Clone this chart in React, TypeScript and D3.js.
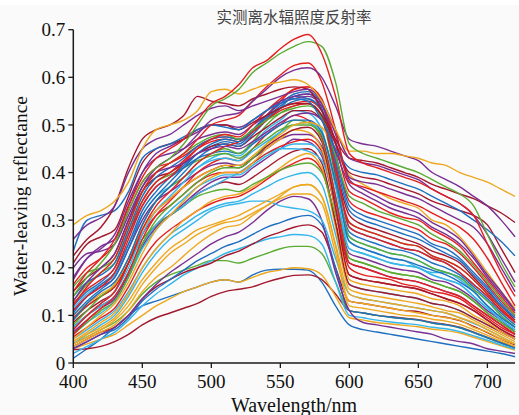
import React from "react";
import * as d3 from "d3";

// Sampling wavelengths (nm) shared by every spectrum
const wavelengths = [
  400, 410, 420, 430, 440, 450, 460, 470, 480, 490, 500,
  510, 520, 530, 540, 550, 560, 570, 580, 590, 600, 610,
  620, 630, 640, 650, 660, 670, 680, 690, 700, 710, 720,
];

const xTicks = [400, 450, 500, 550, 600, 650, 700];
const yTicks = [0, 0.1, 0.2, 0.3, 0.4, 0.5, 0.6, 0.7];
const yTickLabels = ["0", "0.1", "0.2", "0.3", "0.4", "0.5", "0.6", "0.7"];

const title = "实测离水辐照度反射率";
const xLabel = "Wavelength/nm";
const yLabel = "Water-leaving reflectance";

const BLUE = "#1f6fc0";
const RED = "#e41f1f";
const ORANGE = "#eea820";
const PURPLE = "#7a2f92";
const GREEN = "#5aab32";
const CYAN = "#33b6ea";
const DARKRED = "#a3182c";

// Bright, high-offset spectra
const sA1 = [.29,.31,.32,.34,.38,.45,.49,.50,.51,.53,.57, .575,.565,.575,.585,.59,.595,.585,.55,.49,.445,.445, .44,.44,.435,.43,.42,.415,.40,.39,.38,.365,.35];
const sA2 = [.26,.29,.305,.33,.40,.45,.47,.48,.50,.52,.535, .54,.53,.54,.55,.56,.57,.575,.55,.49,.43,.42, .415,.405,.395,.385,.365,.35,.335,.31,.27,.22,.17];
const sA3 = [.225,.26,.285,.33,.41,.47,.49,.50,.52,.56,.55, .545,.54,.555,.565,.575,.58,.575,.53,.47,.43,.425, .42,.41,.40,.39,.375,.365,.355,.345,.33,.315,.295];
const sA4 = [.235,.30,.31,.32,.36,.43,.45,.46,.475,.49,.50, .495,.49,.51,.53,.545,.555,.55,.51,.45,.41,.40, .395,.385,.375,.365,.35,.335,.32,.30,.28,.255,.225];
const sA5 = [.21,.25,.265,.28,.35,.42,.45,.46,.47,.49,.50, .50,.49,.505,.52,.535,.545,.545,.52,.46,.40,.39, .385,.375,.365,.355,.34,.33,.32,.31,.29,.24,.19];
const sA6 = [.175,.22,.245,.26,.33,.40,.44,.455,.47,.485,.50, .50,.495,.51,.53,.55,.56,.565,.545,.48,.39,.38, .375,.365,.355,.345,.33,.315,.30,.285,.25,.20,.15];

// Spectra with the highest green peaks
const sB1 = [.15,.19,.22,.26,.33,.39,.43,.45,.47,.51,.545, .56,.585,.62,.635,.66,.68,.69,.65,.56,.44,.42, .41,.40,.39,.38,.365,.35,.335,.31,.25,.19,.14];
const sB2 = [.14,.18,.21,.25,.32,.38,.41,.43,.46,.50,.54, .555,.575,.61,.63,.65,.665,.675,.665,.59,.46,.44, .43,.42,.41,.40,.385,.37,.355,.33,.27,.21,.16];
const sB3 = [.12,.16,.19,.22,.29,.36,.40,.42,.44,.47,.50, .51,.52,.55,.58,.605,.625,.63,.59,.49,.38,.37, .36,.35,.34,.33,.315,.30,.285,.26,.22,.17,.12];
const sB4 = [.13,.17,.20,.23,.30,.37,.41,.43,.45,.48,.51, .52,.525,.55,.575,.60,.615,.62,.60,.54,.47,.46, .455,.445,.435,.425,.40,.385,.37,.35,.33,.30,.265];

// Main cluster
const sC1 = [.11,.14,.16,.19,.26,.33,.37,.39,.42,.45,.47, .48,.475,.50,.53,.555,.575,.58,.555,.46,.36,.345, .33,.315,.305,.30,.28,.265,.245,.21,.175,.14,.105];
const sC2 = [.10,.13,.155,.18,.24,.31,.35,.38,.41,.44,.46, .47,.465,.49,.52,.545,.565,.57,.545,.44,.33,.31, .30,.29,.28,.27,.25,.24,.22,.19,.16,.125,.095];
const sC3 = [.09,.125,.15,.17,.22,.29,.34,.37,.40,.43,.45, .46,.455,.48,.51,.535,.56,.555,.53,.41,.285,.27, .26,.25,.24,.235,.22,.21,.19,.165,.14,.11,.085];
const sC4 = [.18,.22,.24,.27,.34,.40,.43,.44,.45,.47,.48, .485,.48,.50,.52,.545,.555,.56,.54,.465,.385,.365, .35,.335,.325,.315,.295,.28,.26,.225,.185,.15,.11];
const sC5 = [.165,.20,.22,.25,.32,.38,.41,.42,.435,.455,.47, .475,.47,.49,.51,.535,.545,.55,.53,.435,.34,.32, .31,.30,.29,.28,.26,.25,.23,.20,.165,.13,.10];
const sC6 = [.08,.11,.14,.165,.22,.29,.34,.37,.39,.42,.44, .45,.44,.465,.50,.525,.54,.545,.515,.39,.265,.25, .24,.23,.225,.215,.20,.19,.18,.155,.13,.10,.075];
const sC7 = [.07,.10,.125,.15,.20,.27,.32,.35,.38,.41,.43, .44,.435,.46,.49,.51,.53,.525,.49,.37,.24,.23, .22,.21,.205,.20,.185,.175,.165,.14,.115,.09,.07];
const sC8 = [.15,.18,.20,.23,.30,.36,.39,.40,.42,.44,.455, .46,.455,.475,.495,.515,.53,.53,.51,.41,.31,.29, .28,.27,.26,.25,.235,.225,.21,.18,.15,.12,.09];
const sC9 = [.06,.09,.115,.14,.19,.26,.31,.34,.37,.40,.42, .43,.425,.45,.48,.50,.52,.51,.475,.35,.21,.20, .19,.18,.175,.17,.16,.15,.14,.12,.10,.08,.06];
const sC10 = [.12,.15,.17,.20,.27,.33,.37,.39,.41,.43,.44, .445,.44,.46,.48,.50,.51,.51,.485,.38,.275,.26, .25,.24,.235,.225,.21,.20,.185,.16,.135,.105,.08];
const sC11 = [.13,.165,.19,.21,.28,.34,.38,.395,.41,.425,.435, .44,.43,.45,.47,.49,.50,.50,.48,.385,.295,.28, .27,.26,.25,.245,.225,.215,.20,.175,.145,.115,.085];
const sC12 = [.05,.075,.10,.125,.17,.23,.28,.31,.34,.37,.39, .40,.40,.42,.45,.47,.49,.485,.45,.32,.175,.165, .16,.155,.15,.145,.135,.13,.12,.10,.085,.065,.05];
const sC13 = [.11,.14,.16,.18,.24,.30,.34,.36,.38,.40,.415, .42,.415,.43,.45,.47,.48,.48,.455,.34,.23,.22, .21,.20,.195,.19,.175,.17,.155,.135,.11,.09,.065];
const sC14 = [.095,.12,.14,.16,.21,.27,.31,.33,.355,.38,.395, .40,.40,.42,.44,.455,.465,.47,.445,.32,.20,.185, .18,.175,.165,.16,.15,.145,.135,.115,.095,.075,.06];
const sC15 = [.06,.085,.105,.13,.18,.24,.28,.31,.33,.355,.37, .385,.40,.42,.44,.45,.45,.445,.425,.34,.255,.24, .23,.22,.215,.20,.19,.19,.175,.15,.12,.095,.075];
const sC16 = [.075,.10,.12,.14,.19,.25,.29,.31,.33,.355,.37, .38,.375,.39,.41,.43,.445,.45,.42,.295,.165,.155, .15,.145,.14,.135,.125,.12,.11,.095,.08,.065,.05];
const sC17 = [.045,.065,.085,.105,.145,.20,.24,.27,.30,.32,.34, .35,.355,.37,.39,.41,.43,.44,.41,.285,.155,.145, .14,.135,.13,.125,.118,.11,.105,.09,.075,.06,.045];
const sC18 = [.09,.12,.14,.16,.21,.26,.29,.31,.33,.35,.36, .365,.36,.375,.39,.405,.415,.42,.40,.31,.22,.21, .20,.19,.185,.18,.17,.16,.15,.13,.105,.085,.065];

const sH1 = [.20,.23,.235,.25,.31,.37,.40,.41,.42,.44,.45, .455,.45,.465,.485,.505,.52,.525,.51,.445,.375,.355, .34,.325,.315,.305,.285,.27,.25,.22,.18,.145,.11];
const sH2 = [.16,.19,.20,.22,.29,.36,.40,.42,.44,.46,.475, .48,.47,.49,.51,.525,.535,.54,.52,.435,.35,.335, .32,.31,.30,.29,.27,.255,.235,.205,.17,.135,.10];
const sH3 = [.14,.17,.185,.21,.28,.35,.39,.41,.43,.455,.47, .475,.47,.49,.515,.535,.55,.555,.53,.425,.32,.30, .29,.28,.27,.26,.245,.23,.215,.185,.155,.12,.095];
const sH4 = [.125,.155,.175,.20,.27,.34,.38,.40,.425,.45,.465, .47,.465,.485,.51,.53,.54,.545,.52,.405,.295,.28, .27,.26,.25,.245,.225,.215,.20,.175,.145,.115,.085];
const sH5 = [.105,.14,.165,.19,.25,.32,.36,.39,.415,.44,.455, .465,.46,.485,.515,.54,.56,.565,.535,.395,.255,.24, .23,.22,.215,.205,.195,.185,.17,.15,.12,.095,.075];
const sH6 = [.085,.11,.13,.15,.21,.28,.32,.345,.37,.39,.405, .415,.41,.43,.455,.475,.49,.495,.465,.325,.185,.175, .17,.165,.16,.155,.145,.135,.125,.11,.09,.07,.055];
const sH7 = [.07,.10,.125,.15,.21,.28,.33,.36,.39,.42,.44, .455,.465,.49,.52,.55,.575,.58,.55,.42,.285,.27, .26,.25,.24,.235,.22,.21,.19,.165,.14,.11,.085];
const sH8 = [.06,.085,.11,.13,.18,.25,.30,.33,.355,.38,.40, .41,.41,.43,.46,.485,.51,.505,.47,.35,.22,.21, .20,.19,.185,.18,.17,.16,.15,.13,.105,.085,.065];
const sH9 = [.10,.125,.145,.165,.22,.28,.32,.345,.37,.39,.405, .415,.415,.435,.46,.48,.50,.505,.495,.445,.395,.375, .36,.345,.335,.325,.30,.29,.265,.23,.19,.15,.115];
const sH10 = [.115,.145,.165,.185,.25,.31,.35,.37,.39,.41,.425, .43,.425,.445,.465,.485,.50,.505,.48,.375,.265,.25, .24,.23,.225,.215,.20,.19,.18,.155,.13,.10,.075];

const sM1 = [.05,.07,.09,.11,.15,.20,.24,.27,.29,.31,.325, .335,.34,.355,.37,.385,.395,.40,.375,.27,.165,.155, .15,.145,.14,.135,.125,.12,.11,.095,.08,.065,.05];
const sM2 = [.04,.055,.07,.09,.12,.165,.20,.23,.25,.27,.285, .295,.30,.315,.33,.345,.355,.355,.335,.23,.13,.125, .12,.115,.11,.105,.10,.095,.09,.075,.065,.05,.04];
const sM3 = [.045,.06,.075,.095,.13,.175,.21,.24,.26,.28,.29, .30,.31,.325,.34,.355,.37,.375,.35,.25,.145,.135, .13,.125,.12,.115,.11,.105,.095,.085,.07,.055,.04];
const sM4 = [.055,.075,.095,.115,.16,.215,.255,.28,.30,.32,.335, .345,.35,.365,.385,.405,.42,.43,.405,.295,.185,.175, .17,.165,.16,.155,.145,.135,.125,.11,.09,.07,.055];
const sM5 = [.065,.09,.115,.135,.185,.245,.285,.31,.335,.36,.38, .39,.39,.41,.43,.45,.47,.465,.435,.325,.21,.20, .19,.18,.175,.17,.16,.15,.14,.12,.10,.08,.06];
const sM6 = [.075,.10,.12,.14,.19,.25,.29,.32,.345,.37,.385, .395,.395,.415,.435,.45,.46,.46,.44,.34,.24,.23, .22,.21,.205,.20,.185,.175,.165,.14,.115,.09,.07];

// Dim spectra
const sL1 = [.035,.05,.065,.08,.11,.15,.18,.20,.225,.25,.27, .285,.29,.31,.33,.35,.37,.375,.35,.245,.12,.115, .11,.105,.10,.098,.092,.088,.081,.07,.058,.046,.035];
const sL2 = [.04,.06,.08,.10,.14,.19,.23,.26,.28,.30,.32, .33,.335,.34,.34,.33,.325,.32,.30,.22,.145,.135, .13,.125,.12,.115,.11,.105,.095,.083,.07,.055,.04];
const sL3 = [.03,.045,.06,.075,.10,.135,.165,.19,.21,.23,.25, .265,.275,.295,.32,.34,.35,.345,.30,.19,.11,.085, .08,.075,.07,.065,.06,.05,.045,.04,.03,.025,.02];
const sL4 = [.03,.045,.06,.07,.095,.13,.155,.175,.195,.215,.23, .245,.255,.27,.285,.295,.305,.31,.29,.20,.11,.105, .10,.096,.093,.09,.084,.08,.074,.064,.053,.042,.032];
const sL5 = [.035,.05,.065,.075,.10,.135,.16,.175,.19,.20,.21, .225,.235,.25,.265,.275,.285,.29,.275,.20,.13,.125, .12,.115,.11,.108,.10,.096,.089,.077,.064,.05,.038];
const sL6 = [.04,.055,.07,.085,.11,.145,.17,.185,.195,.205,.215, .215,.21,.22,.23,.24,.245,.245,.23,.17,.11,.105, .10,.096,.093,.09,.084,.08,.074,.064,.053,.042,.032];
const sL7 = [.03,.04,.05,.06,.08,.10,.12,.135,.15,.16,.17, .175,.17,.18,.19,.195,.20,.198,.185,.14,.095,.09, .085,.082,.079,.076,.071,.068,.063,.054,.045,.036,.027];
const sL8 = [.01,.03,.05,.075,.10,.12,.13,.14,.15,.16,.17, .175,.17,.185,.195,.197,.197,.195,.17,.12,.08,.07, .065,.06,.055,.05,.045,.04,.035,.03,.025,.02,.013];
const sL9 = [.028,.03,.035,.045,.06,.08,.095,.105,.115,.125,.14, .15,.155,.16,.17,.178,.184,.185,.175,.145,.11,.105, .10,.097,.094,.091,.085,.081,.075,.065,.054,.043,.033];
const sL10 = [.02,.035,.05,.065,.09,.12,.145,.165,.185,.20,.215, .23,.24,.25,.26,.265,.27,.268,.25,.17,.10,.095, .09,.086,.083,.08,.075,.072,.066,.057,.048,.038,.029];

const spectra: { values: number[]; color: string }[] = [
  { values: sL8, color: BLUE },
  { values: sL9, color: DARKRED },
  { values: sL7, color: ORANGE },
  { values: sL6, color: GREEN },
  { values: sL10, color: CYAN },
  { values: sL5, color: DARKRED },
  { values: sL4, color: BLUE },
  { values: sL3, color: PURPLE },
  { values: sL2, color: CYAN },
  { values: sL1, color: ORANGE },
  { values: sM2, color: ORANGE },
  { values: sM3, color: ORANGE },
  { values: sM1, color: CYAN },
  { values: sM4, color: RED },
  { values: sC17, color: ORANGE },
  { values: sC16, color: DARKRED },
  { values: sC18, color: GREEN },
  { values: sM5, color: PURPLE },
  { values: sM6, color: CYAN },
  { values: sC15, color: CYAN },
  { values: sC14, color: RED },
  { values: sC13, color: PURPLE },
  { values: sC12, color: ORANGE },
  { values: sH6, color: DARKRED },
  { values: sH8, color: GREEN },
  { values: sC9, color: RED },
  { values: sC7, color: CYAN },
  { values: sH10, color: CYAN },
  { values: sC11, color: GREEN },
  { values: sC10, color: BLUE },
  { values: sC6, color: GREEN },
  { values: sH5, color: BLUE },
  { values: sC8, color: DARKRED },
  { values: sH9, color: ORANGE },
  { values: sC3, color: BLUE },
  { values: sH4, color: RED },
  { values: sH7, color: RED },
  { values: sC5, color: RED },
  { values: sH3, color: BLUE },
  { values: sC2, color: BLUE },
  { values: sH2, color: GREEN },
  { values: sC4, color: PURPLE },
  { values: sC1, color: RED },
  { values: sH1, color: PURPLE },
  { values: sA6, color: PURPLE },
  { values: sA5, color: DARKRED },
  { values: sA4, color: BLUE },
  { values: sB3, color: RED },
  { values: sA3, color: DARKRED },
  { values: sA2, color: PURPLE },
  { values: sB4, color: PURPLE },
  { values: sA1, color: ORANGE },
  { values: sB2, color: GREEN },
  { values: sB1, color: RED },
];

const W = 519;
const H = 415;
const serif = "'Liberation Serif', 'Times New Roman', serif";

export default function App() {
  const x = d3.scaleLinear().domain([400, 720]).range([73.3, 515]);
  const y = d3.scaleLinear().domain([0, 0.7]).range([363, 29.7]);

  const line = d3
    .line<number>()
    .x((_, i) => x(wavelengths[i]))
    .y((v) => y(v))
    .curve(d3.curveMonotoneX);

  const axisColor = "#1a1a1a";

  return (
    <svg
      width={W}
      height={H}
      style={{ position: "absolute", left: 0, top: 0, background: "#fafafa" }}
      xmlns="http://www.w3.org/2000/svg"
    >
      <rect x={0} y={0} width={W} height={5} fill="#ffffff" />

      <text
        x={294}
        y={23}
        textAnchor="middle"
        fontFamily="'Noto Sans CJK SC', sans-serif"
        fontSize={15.5}
        fill="#444"
      >
        {title}
      </text>

      <g fill="none" strokeWidth={1.4} strokeLinejoin="round">
        {spectra.map((s, i) => (
          <path key={i} d={line(s.values) || ""} stroke={s.color} />
        ))}
      </g>

      {/* y axis */}
      <g>
        <line x1={x(400)} x2={x(400)} y1={y(0)} y2={y(0.7)} stroke={axisColor} strokeWidth={1.5} />
        {yTicks.map((t, i) => (
          <g key={t}>
            <line x1={x(400) - 5} x2={x(400)} y1={y(t)} y2={y(t)} stroke={axisColor} strokeWidth={1.3} />
            <text
              x={x(400) - 8}
              y={y(t)}
              dy="0.35em"
              textAnchor="end"
              fontFamily={serif}
              fontSize={19}
              fill="#111"
            >
              {yTickLabels[i]}
            </text>
          </g>
        ))}
      </g>

      {/* x axis */}
      <g>
        <line x1={x(400)} x2={x(720)} y1={y(0)} y2={y(0)} stroke={axisColor} strokeWidth={1.5} />
        {xTicks.map((t) => (
          <g key={t}>
            <line x1={x(t)} x2={x(t)} y1={y(0)} y2={y(0) + 5} stroke={axisColor} strokeWidth={1.3} />
            <text
              x={x(t)}
              y={388}
              textAnchor="middle"
              fontFamily={serif}
              fontSize={19}
              fill="#111"
            >
              {t}
            </text>
          </g>
        ))}
      </g>

      <text
        x={294}
        y={412}
        textAnchor="middle"
        fontFamily={serif}
        fontSize={20}
        fill="#111"
      >
        {xLabel}
      </text>

      <text
        transform="translate(27,196) rotate(-90)"
        textAnchor="middle"
        fontFamily={serif}
        fontSize={19.5}
        fill="#111"
      >
        {yLabel}
      </text>
    </svg>
  );
}
